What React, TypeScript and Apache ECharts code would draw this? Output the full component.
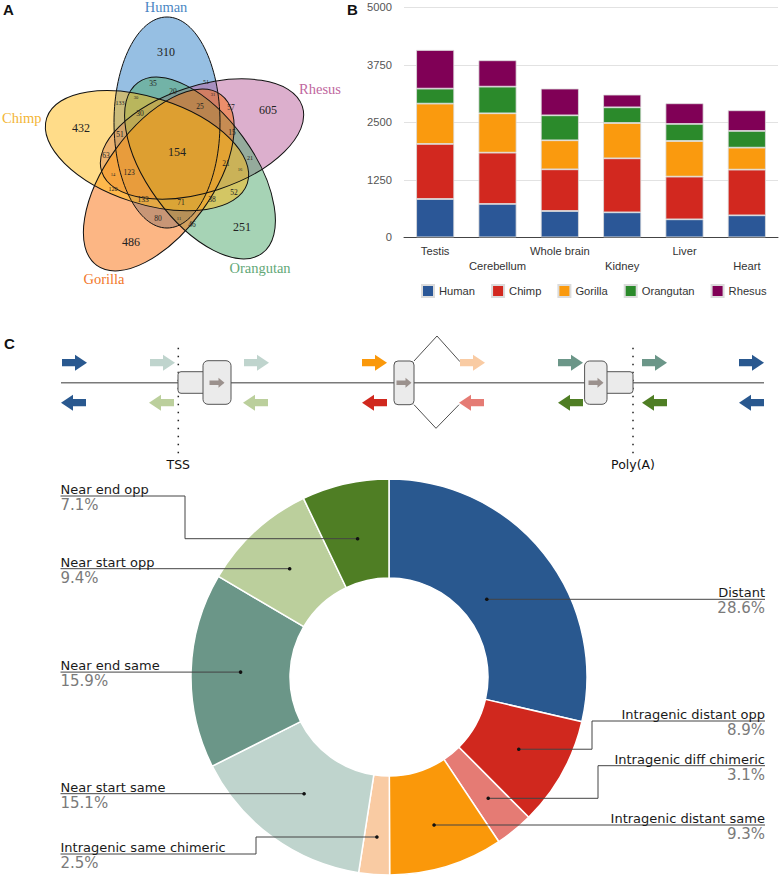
import React, { useEffect, useRef } from 'react';
import * as echarts from 'echarts';

// ---------- Panel A: Venn ----------
const vennSets = ['Human', 'Rhesus', 'Orangutan', 'Gorilla', 'Chimp'];
const vennFill = ['rgba(45,127,199,0.5)', 'rgba(185,95,155,0.5)', 'rgba(77,167,107,0.5)', 'rgba(250,110,10,0.5)', 'rgba(255,185,20,0.5)'];
const vennLabelColor = ['#4b87c3', '#c0679e', '#63a877', '#f2782a', '#f3b535'];
const vennCounts = [310, 605, 251, 486, 432, 154, 35, 51, 20, 30, 133, 30, 25, 31, 57, 51, 15, 63, 21, 21, 16, 123, 14, 120, 52, 133, 71, 38, 80, 11, 46];
const vennCountSize = [12, 12, 12, 12, 12, 12, 7.5, 6, 7.5, 4.5, 6, 7.5, 7.5, 4.5, 7.5, 7.5, 7.5, 7.5, 7.5, 6, 4.5, 7.5, 4.5, 6, 7.5, 7.5, 7.5, 7.5, 7.5, 4.5, 7.5];
const vennCountPos = [
  [166, 52], [268, 110], [242, 227], [131, 242], [81, 128], [177, 152],
  [153, 83], [206, 82], [173, 91], [136, 97], [120, 103], [140, 113], [200, 106], [213, 94], [231, 107],
  [120, 134], [232, 132], [106, 155], [226, 163], [250, 158], [240, 169], [129, 172], [113, 174],
  [113, 189], [234, 192], [143, 199], [181, 202], [212, 199], [158, 218], [179, 218], [192, 224],
];
const vennSetLabelPos = [[166, 7, 'center'], [320, 89, 'center'], [260, 268, 'center'], [104, 279, 'center'], [2, 118, 'left']];
// ellipse centres (layout) and axis angle in degrees (screen, clockwise from +x)
const vennEllipseGeom = [
  [167, 122.5, -90], [202, 139, -18], [200, 168, 54], [158.8, 180, 126], [147, 150.7, 198],
];

// ---------- Panel B: stacked bars ----------
const tissues = ['Testis', 'Cerebellum', 'Whole brain', 'Kidney', 'Liver', 'Heart'];
const species = ['Human', 'Chimp', 'Gorilla', 'Orangutan', 'Rhesus'];
const speciesColors = ['#2b5797', '#d2281f', '#fa9a0e', '#2b8a2b', '#800056'];
const humanVals = [833, 725, 572, 543, 391, 478];
const chimpVals = [1196, 1115, 906, 1174, 928, 993];
const gorillaVals = [877, 856, 631, 768, 775, 478];
const orangutanVals = [326, 579, 543, 341, 370, 363];
const rhesusVals = [840, 573, 580, 275, 449, 449];
const yTicks = { min: 0, max: 5000, interval: 1250 };

// ---------- Panel C: donut ----------
const classes = [
  'Distant', 'Intragenic distant opp', 'Intragenic diff chimeric', 'Intragenic distant same',
  'Intragenic same chimeric', 'Near start same', 'Near end same', 'Near start opp', 'Near end opp',
];
const classPct = [28.6, 8.9, 3.1, 9.3, 2.5, 15.1, 15.9, 9.4, 7.1];
const classColors = ['#29588f', '#d0281e', '#e57b74', '#fa980a', '#f9cba3', '#bfd4cd', '#6b9688', '#bbcf9c', '#4f7e24'];
// label placement (layout only): underline y, elbow x, anchor-dot y (dot sits on the slice's middle ray)
const labelLayout: { side: 'left' | 'right'; lineY: number | null; elbowX: number | null; dotY: number | null }[] = [
  { side: 'right', lineY: 599.3, elbowX: null, dotY: 599.3 },
  { side: 'right', lineY: 721, elbowX: 592, dotY: null },
  { side: 'right', lineY: 765.7, elbowX: 598, dotY: 798.3 },
  { side: 'right', lineY: 825, elbowX: null, dotY: 825 },
  { side: 'left', lineY: 854, elbowX: 256, dotY: 837 },
  { side: 'left', lineY: 793.7, elbowX: null, dotY: 793.7 },
  { side: 'left', lineY: null, elbowX: null, dotY: null },
  { side: 'left', lineY: 568.7, elbowX: null, dotY: 568.7 },
  { side: 'left', lineY: 496, elbowX: 185, dotY: 538.7 },
];

// gene model arrows: [x start, class index]
const topArrows = [[62, 0], [150, 5], [244, 5], [362, 3], [460, 4], [558, 6], [642, 6], [739, 0]];
const bottomArrows = [[61, 0], [149, 7], [243, 7], [362, 1], [459, 2], [558, 8], [642, 8], [739, 0]];

function arrowRight(x0: number, yc: number, len = 25, shaft = 3.6, head = 8, headLen = 12) {
  return [[x0, yc - shaft], [x0 + len - headLen, yc - shaft], [x0 + len - headLen, yc - head], [x0 + len, yc], [x0 + len - headLen, yc + head], [x0 + len - headLen, yc + shaft], [x0, yc + shaft]];
}
function arrowLeft(x0: number, yc: number, len = 25, shaft = 3.6, head = 8, headLen = 12) {
  return arrowRight(x0, yc, len, shaft, head, headLen).map(([x, y]) => [2 * x0 + len - x, y]);
}

function buildGraphic() {
  const g: any[] = [];
  const serif = '"Liberation Serif", "Times New Roman", serif';
  const dejavu = '"DejaVu Sans", sans-serif';
  const letter = (t: string, x: number, y: number) => ({ type: 'text', x, y, z: 100, style: { text: t, fontSize: 15, fontWeight: 'bold', fontFamily: '"Liberation Sans", Arial', fill: '#111', verticalAlign: 'middle' } });
  g.push(letter('A', 3, 9), letter('B', 347, 9), letter('C', 4, 343));

  // Venn ellipses
  vennEllipseGeom.forEach(([x, y, rot], k) => {
    g.push({
      type: 'ellipse', x, y, rotation: (-rot * Math.PI) / 180, z: 10,
      shape: { cx: 0, cy: 0, rx: 105.5, ry: 53 },
      style: { fill: vennFill[k], stroke: 'none' },
    });
  });
  vennEllipseGeom.forEach(([x, y, rot]) => {
    g.push({
      type: 'ellipse', x, y, rotation: (-rot * Math.PI) / 180, z: 11,
      shape: { cx: 0, cy: 0, rx: 105.5, ry: 53 },
      style: { fill: 'none', stroke: '#111', lineWidth: 1 },
    });
  });
  vennCounts.forEach((v, i) => {
    g.push({ type: 'text', x: vennCountPos[i][0], y: vennCountPos[i][1], z: 12, style: { text: String(v), fontSize: vennCountSize[i], fontFamily: serif, fill: '#222', align: 'center', verticalAlign: 'middle' } });
  });
  vennSets.forEach((s, i) => {
    const p = vennSetLabelPos[i];
    g.push({ type: 'text', x: p[0], y: p[1], z: 12, style: { text: s, fontSize: 14.5, fontFamily: serif, fill: vennLabelColor[i], align: p[2], verticalAlign: 'middle' } });
  });

  // Gene model
  const lineY = 382.7;
  g.push({ type: 'line', z: 20, shape: { x1: 61, y1: lineY, x2: 764, y2: lineY }, style: { stroke: '#7a7a7a', lineWidth: 1.5 } });
  [178.3, 633].forEach((x) => {
    g.push({ type: 'line', z: 19, shape: { x1: x, y1: 347.7, x2: x, y2: 455 }, style: { stroke: '#222', lineWidth: 1.5, lineDash: [1.5, 6.5] } });
  });
  g.push({ type: 'text', x: 178.3, y: 464, z: 20, style: { text: 'TSS', fontSize: 12.5, fontFamily: dejavu, fill: '#111', align: 'center', verticalAlign: 'middle' } });
  g.push({ type: 'text', x: 633, y: 464, z: 20, style: { text: 'Poly(A)', fontSize: 12.5, fontFamily: dejavu, fill: '#111', align: 'center', verticalAlign: 'middle' } });
  const boxStyle = { fill: '#ebebeb', stroke: '#555', lineWidth: 1 };
  g.push({ type: 'rect', z: 21, shape: { x: 178, y: 371.7, width: 28, height: 21.6, r: 3 }, style: boxStyle });
  g.push({ type: 'rect', z: 22, shape: { x: 203, y: 360.7, width: 28, height: 43.6, r: 5 }, style: boxStyle });
  g.push({ type: 'rect', z: 22, shape: { x: 394, y: 361, width: 20, height: 43.7, r: 4 }, style: boxStyle });
  g.push({ type: 'rect', z: 21, shape: { x: 604, y: 371.7, width: 29, height: 21.6, r: 3 }, style: boxStyle });
  g.push({ type: 'rect', z: 22, shape: { x: 584.6, y: 361, width: 22.4, height: 43.3, r: 5 }, style: boxStyle });
  [217, 404, 596].forEach((cx) => {
    g.push({ type: 'polygon', z: 23, shape: { points: arrowRight(cx - 7.5, lineY, 15, 2.2, 5, 6) }, style: { fill: '#9b918d' } });
  });
  g.push({ type: 'polyline', z: 20, shape: { points: [[414, 361], [437, 336], [460, 361.7]] }, style: { stroke: '#222', lineWidth: 0.8, fill: 'none' } });
  g.push({ type: 'polyline', z: 20, shape: { points: [[414, 404.7], [436, 428.3], [459, 404.7]] }, style: { stroke: '#222', lineWidth: 0.8, fill: 'none' } });
  topArrows.forEach(([x, c]) => g.push({ type: 'polygon', z: 20, shape: { points: arrowRight(x, 362.7) }, style: { fill: classColors[c] } }));
  bottomArrows.forEach(([x, c]) => g.push({ type: 'polygon', z: 20, shape: { points: arrowLeft(x, 402.7) }, style: { fill: classColors[c] } }));

  // Donut labels with leader lines (dot on the slice's middle ray)
  const cx = 389, cy = 677, R = 198, r0 = 99, rho = (R + r0) / 2;
  const total = classPct.reduce((a, b) => a + b, 0);
  let acc = 0;
  classPct.forEach((v, i) => {
    const mid = ((acc + v / 2) / total) * Math.PI * 2;
    acc += v;
    const L = labelLayout[i];
    const ux = Math.sin(mid), uy = -Math.cos(mid);
    let dist = rho;
    if (L.dotY != null && Math.abs(uy) > 0.3) dist = (L.dotY - cy) / uy;
    const dx = cx + dist * ux;
    const dy = cy + dist * uy;
    const textX = L.side === 'right' ? 765 : 60.5;
    const ly = L.lineY == null ? dy : L.lineY;
    const pts = L.elbowX == null
      ? [[dx, dy], [textX, dy]]
      : [[dx, dy], [L.elbowX, dy], [L.elbowX, ly], [textX, ly]];
    g.push({ type: 'polyline', z: 50, shape: { points: pts }, style: { stroke: '#444', lineWidth: 1, fill: 'none' } });
    g.push({ type: 'circle', z: 51, shape: { cx: dx, cy: dy, r: 1.8 }, style: { fill: '#111' } });
    g.push({ type: 'text', x: textX, y: ly - 6.5, z: 52, style: { text: classes[i], fontSize: 13, fontFamily: dejavu, fill: '#1a1a1a', align: L.side, verticalAlign: 'middle' } });
    g.push({ type: 'text', x: textX, y: ly + 9, z: 52, style: { text: v.toFixed(1) + '%', fontSize: 15, fontFamily: dejavu, fill: '#7a7a7a', align: L.side, verticalAlign: 'middle' } });
  });
  return g;
}

function buildOption(): any {
  const barVals = [humanVals, chimpVals, gorillaVals, orangutanVals, rhesusVals];
  const sans = '"Liberation Sans", Arial, sans-serif';
  return {
    animation: false,
    backgroundColor: '#ffffff',
    legend: {
      left: 421, top: 284, padding: 0, itemWidth: 12, itemHeight: 12, itemGap: 16, icon: 'rect',
      textStyle: { fontSize: 11.2, color: '#333', fontFamily: sans },
      data: species,
    },
    grid: { left: 404, top: 7.3, width: 374, height: 230, containLabel: false },
    xAxis: {
      type: 'category', data: tissues,
      axisLine: { lineStyle: { color: '#444', width: 1 } },
      axisTick: { show: false },
      axisLabel: {
        interval: 0, margin: 6, lineHeight: 15, fontSize: 11.2, color: '#333', fontFamily: sans,
        formatter: (v: string, i: number) => (i % 2 ? '\n' + v : v),
      },
    },
    yAxis: {
      type: 'value', min: yTicks.min, max: yTicks.max, interval: yTicks.interval,
      axisLine: { show: false }, axisTick: { show: false },
      splitLine: { lineStyle: { color: '#e2e2e2' } },
      axisLabel: { fontSize: 11.2, color: '#555', margin: 12, fontFamily: sans, formatter: (v: number) => String(v) },
    },
    series: [
      ...species.map((s, i) => ({
        name: s, type: 'bar', stack: 'all', barWidth: 38, data: barVals[i],
        itemStyle: { color: speciesColors[i], borderColor: '#dcdcdc', borderWidth: 0.8 },
      })),
      {
        name: 'classes', type: 'pie', center: [389, 677], radius: [99, 198], startAngle: 90, clockwise: true,
        label: { show: false }, labelLine: { show: false }, legendHoverLink: false,
        itemStyle: { borderColor: '#fff', borderWidth: 1.5 },
        data: classes.map((c, i) => ({ name: c, value: classPct[i], itemStyle: { color: classColors[i] } })),
      },
    ],
    graphic: buildGraphic(),
  };
}

export default function App() {
  const ref = useRef<HTMLDivElement>(null);
  useEffect(() => {
    document.body.style.margin = '0';
    const chart = echarts.init(ref.current!, null, { renderer: 'svg', width: 780, height: 878 });
    chart.setOption(buildOption());
    return () => chart.dispose();
  }, []);
  return <div ref={ref} style={{ width: 780, height: 878, background: '#fff' }} />;
}
